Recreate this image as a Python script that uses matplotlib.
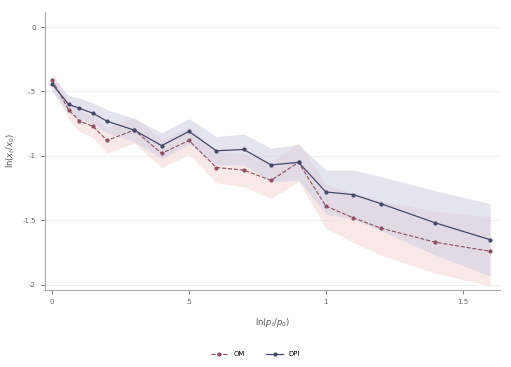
import numpy as np
import matplotlib
matplotlib.use('Agg')
from matplotlib import pyplot as plt

# data
x = [0, 0.06, 0.1, 0.15, 0.2, 0.3, 0.4, 0.5, 0.6, 0.7, 0.8, 0.9, 1.0, 1.1, 1.2, 1.4, 1.6]
dpi_y = [-0.44, -0.60, -0.63, -0.67, -0.73, -0.80, -0.92, -0.81, -0.96, -0.95,
         -1.07, -1.05, -1.28, -1.30, -1.37, -1.52, -1.65]
dpi_hw = [0.06, 0.07, 0.08, 0.08, 0.09, 0.09, 0.10, 0.10, 0.11, 0.12,
          0.13, 0.14, 0.17, 0.19, 0.21, 0.25, 0.28]
om_y = [-0.41, -0.64, -0.73, -0.77, -0.88, -0.80, -0.98, -0.88, -1.09, -1.11,
        -1.19, -1.05, -1.39, -1.48, -1.56, -1.67, -1.74]
om_hw = [0.06, 0.07, 0.08, 0.09, 0.10, 0.10, 0.11, 0.11, 0.12, 0.13,
         0.14, 0.15, 0.17, 0.19, 0.21, 0.24, 0.27]
xticks = [0, 0.5, 1, 1.5]
xtick_labels = ['0', '.5', '1', '1.5']
yticks = [0, -0.5, -1, -1.5, -2]
ytick_labels = ['0', '-.5', '-1', '-1.5', '-2']

x = np.array(x)
dpi_y, dpi_hw = np.array(dpi_y), np.array(dpi_hw)
om_y, om_hw = np.array(om_y), np.array(om_hw)

fig = plt.figure(figsize=(5.11, 3.67), dpi=100)
ax = fig.add_axes([0.088, 0.21, 0.89, 0.757])

# bandes de confiance
ax.fill_between(x, om_y - om_hw, om_y + om_hw, color='#f6dada', alpha=0.6, lw=0)
ax.fill_between(x, dpi_y - dpi_hw, dpi_y + dpi_hw, color='#cfcfe3', alpha=0.55, lw=0)

l1, = ax.plot(x, om_y, color='#8c5060', lw=0.8, ls='--', marker='o', ms=2.0, label='OM')
l2, = ax.plot(x, dpi_y, color='#45486a', lw=0.9, marker='o', ms=2.0, label='DPI')

ax.set_xlim(-0.026, 1.635)
ax.set_ylim(-2.04, 0.116)
ax.set_xticks(xticks)
ax.set_xticklabels(xtick_labels)
ax.set_yticks(yticks)
ax.set_yticklabels(ytick_labels)
ax.tick_params(labelsize=5, colors='#666666', length=3, width=0.6)
ax.grid(axis='y', color='#f0f0f0', lw=0.8)
ax.set_axisbelow(True)
for s in ['top', 'right']:
    ax.spines[s].set_visible(False)
for s in ['left', 'bottom']:
    ax.spines[s].set_color('#aaaaaa')
    ax.spines[s].set_linewidth(0.8)

ax.set_xlabel(r'ln($p_t/p_0$)', fontsize=6, color='#555555', labelpad=8)
ax.set_ylabel(r'ln($x_t/x_0$)', fontsize=6, color='#555555', labelpad=4)

fig.legend(handles=[l1, l2], loc='lower center', bbox_to_anchor=(0.5, 0.01),
           ncol=2, frameon=False, fontsize=5, handlelength=2.5, columnspacing=3)

plt.savefig('out.png', dpi=100)
